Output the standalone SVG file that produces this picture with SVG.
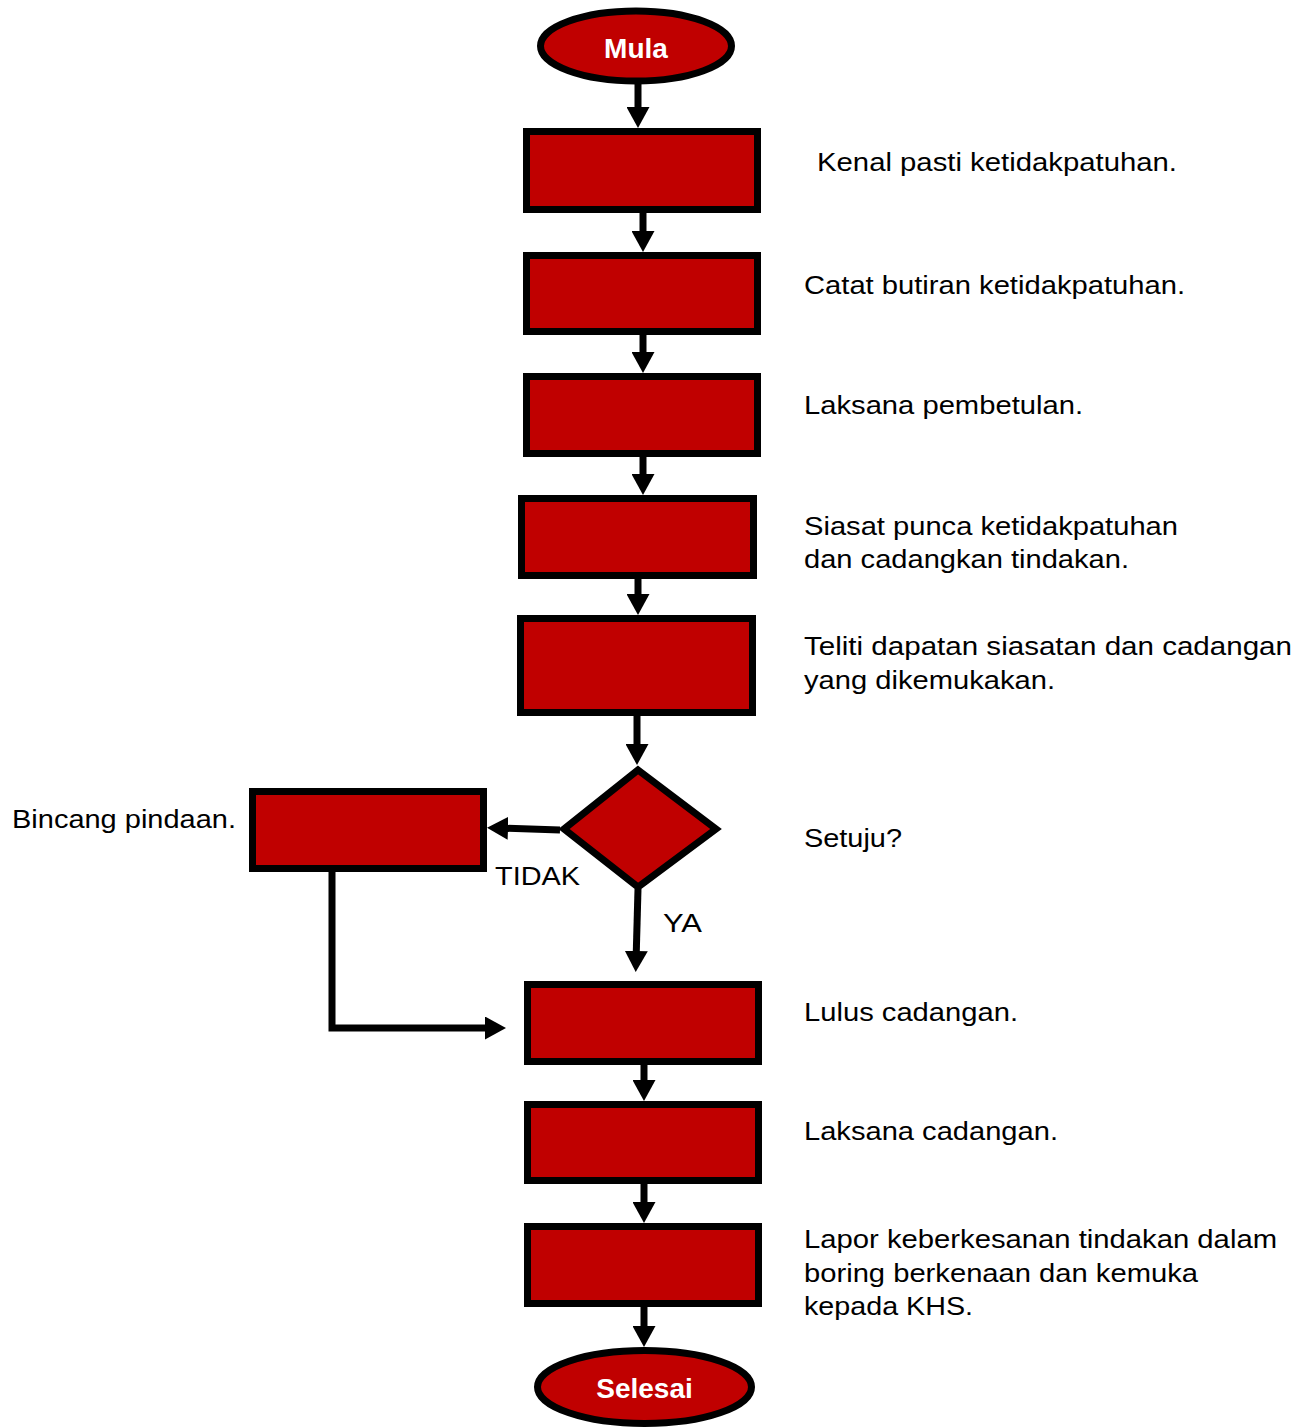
<svg xmlns="http://www.w3.org/2000/svg" width="1306" height="1428" viewBox="0 0 1306 1428">
<style>
.box{fill:#C00000;stroke:#000;stroke-width:7;stroke-linejoin:miter}
.lbl{font-family:"Liberation Sans",Arial,sans-serif;font-size:26px;fill:#000}
.term{font-family:"Liberation Sans",Arial,sans-serif;font-size:28px;font-weight:bold;fill:#fff;text-anchor:middle}
.con{fill:none;stroke:#000;stroke-width:7;marker-end:url(#ah)}
</style>
<defs>
<marker id="ah" markerUnits="userSpaceOnUse" viewBox="0 0 21 23" markerWidth="21" markerHeight="23" refX="11" refY="11.5" orient="auto">
<path d="M0,0 L21,11.5 L0,23 Z" fill="#000"/>
</marker>
</defs>
<rect width="1306" height="1428" fill="#fff"/>
<g id="connectors">
<path class="con" d="M638,84 L638,118"/>
<path class="con" d="M643,212 L643,242"/>
<path class="con" d="M643,334 L643,363"/>
<path class="con" d="M643,456 L643,485"/>
<path class="con" d="M638,578 L638,605"/>
<path class="con" d="M637,715 L637,755"/>
<path class="con" d="M560,830 L497,828"/>
<path class="con" d="M638,889 L636,962"/>
<path class="con" d="M332,870 L332,1028 L496,1028"/>
<path class="con" d="M644,1064 L644,1091"/>
<path class="con" d="M644,1183 L644,1213"/>
<path class="con" d="M644,1306 L644,1337"/>
</g>
<g id="mula">
<ellipse class="box" cx="636" cy="46" rx="95.5" ry="35"/>
<text class="term" x="636" y="58">Mula</text>
</g>
<g id="n1">
<rect class="box" x="526.5" y="131.5" width="231" height="78"/>
<text class="lbl" x="817" y="171" textLength="360" lengthAdjust="spacingAndGlyphs">Kenal pasti ketidakpatuhan.</text>
</g>
<g id="n2">
<rect class="box" x="526.5" y="255.5" width="231" height="76"/>
<text class="lbl" x="804" y="294" textLength="381" lengthAdjust="spacingAndGlyphs">Catat butiran ketidakpatuhan.</text>
</g>
<g id="n3">
<rect class="box" x="526.5" y="376.5" width="231" height="77"/>
<text class="lbl" x="804" y="414" textLength="279" lengthAdjust="spacingAndGlyphs">Laksana pembetulan.</text>
</g>
<g id="n4">
<rect class="box" x="521.5" y="498.5" width="232" height="77"/>
<text class="lbl" x="804" y="535" textLength="374" lengthAdjust="spacingAndGlyphs">Siasat punca ketidakpatuhan</text>
<text class="lbl" x="804" y="568" textLength="325" lengthAdjust="spacingAndGlyphs">dan cadangkan tindakan.</text>
</g>
<g id="n5">
<rect class="box" x="520.5" y="618.5" width="232" height="94"/>
<text class="lbl" x="804" y="655" textLength="488" lengthAdjust="spacingAndGlyphs">Teliti dapatan siasatan dan cadangan</text>
<text class="lbl" x="804" y="689" textLength="251" lengthAdjust="spacingAndGlyphs">yang dikemukakan.</text>
</g>
<g id="decision">
<polygon class="box" points="638,770 716,829 638,887 564,829"/>
<text class="lbl" x="804" y="847" textLength="98" lengthAdjust="spacingAndGlyphs">Setuju?</text>
<text class="lbl" x="495" y="885" textLength="85" lengthAdjust="spacingAndGlyphs">TIDAK</text>
<text class="lbl" x="663" y="932" textLength="39" lengthAdjust="spacingAndGlyphs">YA</text>
</g>
<g id="bincang">
<rect class="box" x="252.5" y="791.5" width="231" height="77"/>
<text class="lbl" x="12" y="828" textLength="224" lengthAdjust="spacingAndGlyphs">Bincang pindaan.</text>
</g>
<g id="n6">
<rect class="box" x="527.5" y="984.5" width="231" height="77"/>
<text class="lbl" x="804" y="1021" textLength="214" lengthAdjust="spacingAndGlyphs">Lulus cadangan.</text>
</g>
<g id="n7">
<rect class="box" x="527.5" y="1104.5" width="231" height="76"/>
<text class="lbl" x="804" y="1140" textLength="254" lengthAdjust="spacingAndGlyphs">Laksana cadangan.</text>
</g>
<g id="n8">
<rect class="box" x="527.5" y="1226.5" width="231" height="77"/>
<text class="lbl" x="804" y="1248" textLength="473" lengthAdjust="spacingAndGlyphs">Lapor keberkesanan tindakan dalam</text>
<text class="lbl" x="804" y="1282" textLength="394" lengthAdjust="spacingAndGlyphs">boring berkenaan dan kemuka</text>
<text class="lbl" x="804" y="1315" textLength="169" lengthAdjust="spacingAndGlyphs">kepada KHS.</text>
</g>
<g id="selesai">
<ellipse class="box" cx="644.5" cy="1387" rx="107" ry="36.5"/>
<text class="term" x="644.5" y="1398">Selesai</text>
</g>
</svg>
